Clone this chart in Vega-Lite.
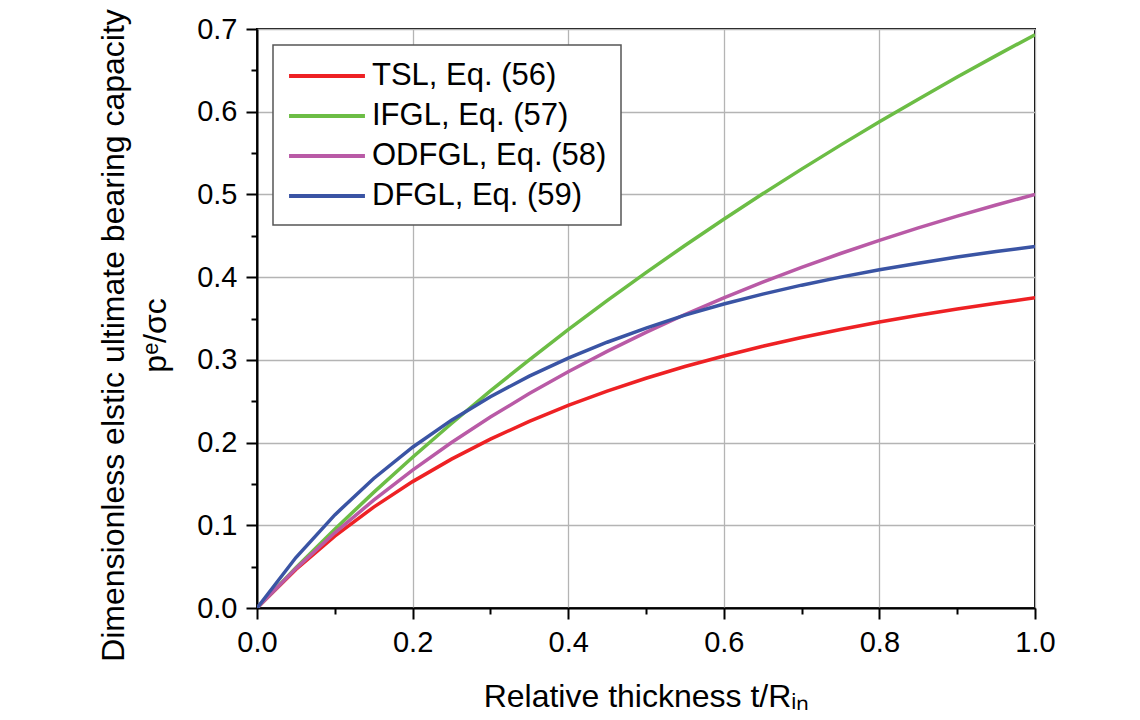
{
  "$schema": "https://vega.github.io/schema/vega-lite/v6.json",
  "width": 778,
  "height": 579,
  "autosize": {"type": "none"},
  "padding": {"left": 257, "top": 29, "right": 105, "bottom": 112},
  "background": "white",
  "config": {
    "font": "Liberation Sans",
    "view": {"stroke": "black", "strokeWidth": 2},
    "axis": {"labelFont": "Liberation Sans", "titleFont": "Liberation Sans", "labelColor": "black", "titleColor": "black", "titleFontWeight": "normal"}
  },
  "data": {"values": [
    {"t": 0.00, "p": 0.0000, "s": "TSL, Eq. (56)"},
    {"t": 0.05, "p": 0.0465, "s": "TSL, Eq. (56)"},
    {"t": 0.10, "p": 0.0868, "s": "TSL, Eq. (56)"},
    {"t": 0.15, "p": 0.1220, "s": "TSL, Eq. (56)"},
    {"t": 0.20, "p": 0.1528, "s": "TSL, Eq. (56)"},
    {"t": 0.25, "p": 0.1800, "s": "TSL, Eq. (56)"},
    {"t": 0.30, "p": 0.2041, "s": "TSL, Eq. (56)"},
    {"t": 0.35, "p": 0.2257, "s": "TSL, Eq. (56)"},
    {"t": 0.40, "p": 0.2449, "s": "TSL, Eq. (56)"},
    {"t": 0.45, "p": 0.2622, "s": "TSL, Eq. (56)"},
    {"t": 0.50, "p": 0.2778, "s": "TSL, Eq. (56)"},
    {"t": 0.55, "p": 0.2919, "s": "TSL, Eq. (56)"},
    {"t": 0.60, "p": 0.3047, "s": "TSL, Eq. (56)"},
    {"t": 0.65, "p": 0.3164, "s": "TSL, Eq. (56)"},
    {"t": 0.70, "p": 0.3270, "s": "TSL, Eq. (56)"},
    {"t": 0.75, "p": 0.3367, "s": "TSL, Eq. (56)"},
    {"t": 0.80, "p": 0.3457, "s": "TSL, Eq. (56)"},
    {"t": 0.85, "p": 0.3539, "s": "TSL, Eq. (56)"},
    {"t": 0.90, "p": 0.3615, "s": "TSL, Eq. (56)"},
    {"t": 0.95, "p": 0.3685, "s": "TSL, Eq. (56)"},
    {"t": 1.00, "p": 0.3750, "s": "TSL, Eq. (56)"},
    {"t": 0.00, "p": 0.0000, "s": "IFGL, Eq. (57)"},
    {"t": 0.05, "p": 0.0488, "s": "IFGL, Eq. (57)"},
    {"t": 0.10, "p": 0.0953, "s": "IFGL, Eq. (57)"},
    {"t": 0.15, "p": 0.1398, "s": "IFGL, Eq. (57)"},
    {"t": 0.20, "p": 0.1823, "s": "IFGL, Eq. (57)"},
    {"t": 0.25, "p": 0.2231, "s": "IFGL, Eq. (57)"},
    {"t": 0.30, "p": 0.2624, "s": "IFGL, Eq. (57)"},
    {"t": 0.35, "p": 0.3001, "s": "IFGL, Eq. (57)"},
    {"t": 0.40, "p": 0.3365, "s": "IFGL, Eq. (57)"},
    {"t": 0.45, "p": 0.3716, "s": "IFGL, Eq. (57)"},
    {"t": 0.50, "p": 0.4055, "s": "IFGL, Eq. (57)"},
    {"t": 0.55, "p": 0.4383, "s": "IFGL, Eq. (57)"},
    {"t": 0.60, "p": 0.4700, "s": "IFGL, Eq. (57)"},
    {"t": 0.65, "p": 0.5008, "s": "IFGL, Eq. (57)"},
    {"t": 0.70, "p": 0.5306, "s": "IFGL, Eq. (57)"},
    {"t": 0.75, "p": 0.5596, "s": "IFGL, Eq. (57)"},
    {"t": 0.80, "p": 0.5878, "s": "IFGL, Eq. (57)"},
    {"t": 0.85, "p": 0.6152, "s": "IFGL, Eq. (57)"},
    {"t": 0.90, "p": 0.6419, "s": "IFGL, Eq. (57)"},
    {"t": 0.95, "p": 0.6678, "s": "IFGL, Eq. (57)"},
    {"t": 1.00, "p": 0.6931, "s": "IFGL, Eq. (57)"},
    {"t": 0.00, "p": 0.0000, "s": "ODFGL, Eq. (58)"},
    {"t": 0.05, "p": 0.0476, "s": "ODFGL, Eq. (58)"},
    {"t": 0.10, "p": 0.0909, "s": "ODFGL, Eq. (58)"},
    {"t": 0.15, "p": 0.1304, "s": "ODFGL, Eq. (58)"},
    {"t": 0.20, "p": 0.1667, "s": "ODFGL, Eq. (58)"},
    {"t": 0.25, "p": 0.2000, "s": "ODFGL, Eq. (58)"},
    {"t": 0.30, "p": 0.2308, "s": "ODFGL, Eq. (58)"},
    {"t": 0.35, "p": 0.2593, "s": "ODFGL, Eq. (58)"},
    {"t": 0.40, "p": 0.2857, "s": "ODFGL, Eq. (58)"},
    {"t": 0.45, "p": 0.3103, "s": "ODFGL, Eq. (58)"},
    {"t": 0.50, "p": 0.3333, "s": "ODFGL, Eq. (58)"},
    {"t": 0.55, "p": 0.3548, "s": "ODFGL, Eq. (58)"},
    {"t": 0.60, "p": 0.3750, "s": "ODFGL, Eq. (58)"},
    {"t": 0.65, "p": 0.3939, "s": "ODFGL, Eq. (58)"},
    {"t": 0.70, "p": 0.4118, "s": "ODFGL, Eq. (58)"},
    {"t": 0.75, "p": 0.4286, "s": "ODFGL, Eq. (58)"},
    {"t": 0.80, "p": 0.4444, "s": "ODFGL, Eq. (58)"},
    {"t": 0.85, "p": 0.4595, "s": "ODFGL, Eq. (58)"},
    {"t": 0.90, "p": 0.4737, "s": "ODFGL, Eq. (58)"},
    {"t": 0.95, "p": 0.4872, "s": "ODFGL, Eq. (58)"},
    {"t": 1.00, "p": 0.5000, "s": "ODFGL, Eq. (58)"},
    {"t": 0.00, "p": 0.0000, "s": "DFGL, Eq. (59)"},
    {"t": 0.05, "p": 0.0610, "s": "DFGL, Eq. (59)"},
    {"t": 0.10, "p": 0.1126, "s": "DFGL, Eq. (59)"},
    {"t": 0.15, "p": 0.1566, "s": "DFGL, Eq. (59)"},
    {"t": 0.20, "p": 0.1944, "s": "DFGL, Eq. (59)"},
    {"t": 0.25, "p": 0.2271, "s": "DFGL, Eq. (59)"},
    {"t": 0.30, "p": 0.2555, "s": "DFGL, Eq. (59)"},
    {"t": 0.35, "p": 0.2803, "s": "DFGL, Eq. (59)"},
    {"t": 0.40, "p": 0.3021, "s": "DFGL, Eq. (59)"},
    {"t": 0.45, "p": 0.3213, "s": "DFGL, Eq. (59)"},
    {"t": 0.50, "p": 0.3383, "s": "DFGL, Eq. (59)"},
    {"t": 0.55, "p": 0.3540, "s": "DFGL, Eq. (59)"},
    {"t": 0.60, "p": 0.3675, "s": "DFGL, Eq. (59)"},
    {"t": 0.65, "p": 0.3795, "s": "DFGL, Eq. (59)"},
    {"t": 0.70, "p": 0.3903, "s": "DFGL, Eq. (59)"},
    {"t": 0.75, "p": 0.4000, "s": "DFGL, Eq. (59)"},
    {"t": 0.80, "p": 0.4089, "s": "DFGL, Eq. (59)"},
    {"t": 0.85, "p": 0.4169, "s": "DFGL, Eq. (59)"},
    {"t": 0.90, "p": 0.4243, "s": "DFGL, Eq. (59)"},
    {"t": 0.95, "p": 0.4310, "s": "DFGL, Eq. (59)"},
    {"t": 1.00, "p": 0.4371, "s": "DFGL, Eq. (59)"}
  ]},
  "resolve": {"axis": {"x": "independent", "y": "independent"}},
  "layer": [
    {
      "mark": {"type": "line", "strokeOpacity": 0},
      "encoding": {
        "detail": {"field": "s", "type": "nominal"},
        "x": {
          "field": "t", "type": "quantitative",
          "scale": {"domain": [0, 1], "nice": false},
          "axis": {
            "orient": "bottom", "values": [0.1, 0.3, 0.5, 0.7, 0.9],
            "labels": false, "domain": false, "grid": false, "title": null,
            "tickSize": 6, "tickWidth": 2, "tickColor": "black"
          }
        },
        "y": {
          "field": "p", "type": "quantitative",
          "scale": {"domain": [0, 0.7], "nice": false},
          "axis": {
            "orient": "left", "values": [0.05, 0.15, 0.25, 0.35, 0.45, 0.55, 0.65],
            "labels": false, "domain": false, "grid": false, "title": null,
            "tickSize": 6, "tickWidth": 2, "tickColor": "black"
          }
        }
      }
    },
    {
      "mark": {"type": "line", "strokeWidth": 3.5, "clip": true},
      "encoding": {
        "x": {
          "field": "t", "type": "quantitative",
          "scale": {"domain": [0, 1], "nice": false},
          "axis": {
            "orient": "bottom",
            "values": [0, 0.2, 0.4, 0.6, 0.8, 1.0], "format": ".1f",
            "title": "Relative thickness t/Rᵢₙ",
            "titleFontSize": 32, "titleBaseline": "alphabetic", "titleY": 98,
            "labelFontSize": 29, "labelPadding": 9, "labelFlush": false,
            "tickSize": 11, "tickWidth": 2, "tickColor": "black",
            "domainColor": "black", "domainWidth": 2,
            "grid": true, "gridColor": "#b4b4b4", "gridWidth": 1.3
          }
        },
        "y": {
          "field": "p", "type": "quantitative",
          "scale": {"domain": [0, 0.7], "nice": false},
          "axis": {
            "orient": "left",
            "values": [0, 0.1, 0.2, 0.3, 0.4, 0.5, 0.6, 0.7], "format": ".1f",
            "title": ["Dimensionless elstic ultimate bearing capacity", "pᵉ/σc"],
            "titleFontSize": 32, "titleLineHeight": 42, "titleBaseline": "alphabetic",
            "titleAngle": 270, "titleX": -134, "titleY": 306, "titleAlign": "center",
            "labelFontSize": 29, "labelPadding": 9, "labelFlush": false,
            "tickSize": 11, "tickWidth": 2, "tickColor": "black",
            "domainColor": "black", "domainWidth": 2,
            "grid": true, "gridColor": "#b4b4b4", "gridWidth": 1.3
          }
        },
        "color": {
          "field": "s", "type": "nominal", "sort": null,
          "scale": {
            "domain": ["TSL, Eq. (56)", "IFGL, Eq. (57)", "ODFGL, Eq. (58)", "DFGL, Eq. (59)"],
            "range": ["#ee2124", "#6cbd45", "#b95aa6", "#3a54a4"]
          },
          "legend": {
            "title": null, "orient": "none", "legendX": 16, "legendY": 16,
            "symbolType": "M-2.53,0H2.53", "symbolSize": 900, "symbolStrokeWidth": 4, "symbolOffset": 23,
            "labelFontSize": 31, "labelFont": "Liberation Sans", "labelColor": "black", "labelOffset": 28,
            "rowPadding": 8, "padding": 14,
            "strokeColor": "#555555", "fillColor": "white",
            "labelLimit": 400,
            "encode": {"legend": {"update": {"strokeWidth": {"value": 1.5}}}}
          }
        }
      }
    }
  ]
}
